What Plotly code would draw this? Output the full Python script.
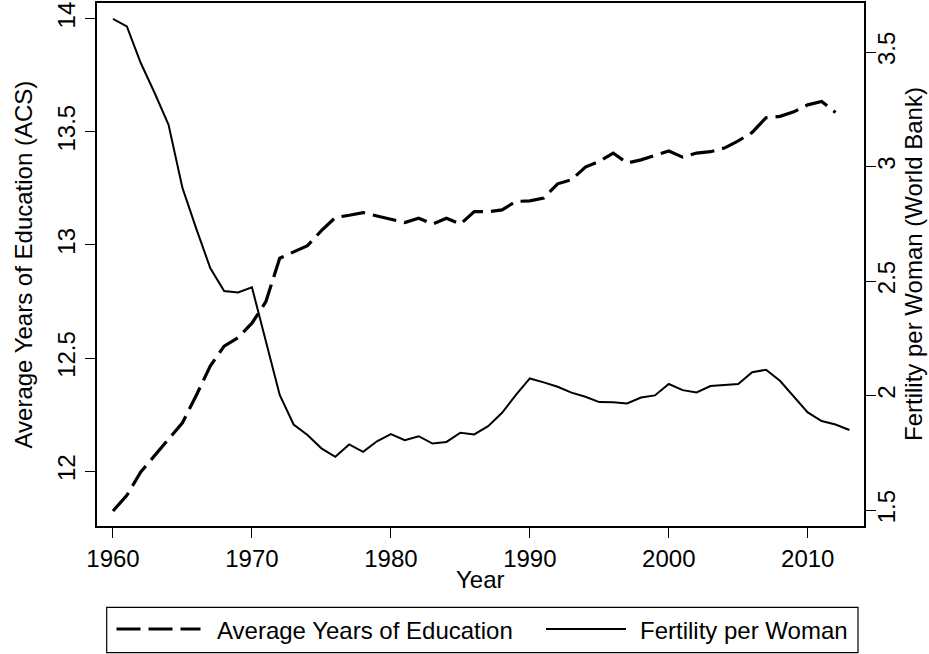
import plotly.graph_objects as go

years_edu = list(range(1960, 2013))
education = [11.824, 11.894, 11.997, 12.071, 12.145, 12.214, 12.336, 12.465, 12.553, 12.590,
             12.654, 12.749, 12.941, 12.969, 12.997, 13.063, 13.121, 13.131, 13.143, 13.128,
             13.114, 13.099, 13.118, 13.092, 13.118, 13.092, 13.147, 13.147, 13.155, 13.192,
             13.195, 13.207, 13.270, 13.288, 13.344, 13.369, 13.406, 13.362, 13.376, 13.394,
             13.415, 13.388, 13.406, 13.412, 13.428, 13.460, 13.497, 13.562, 13.568, 13.588,
             13.619, 13.634, 13.585]

years_fert = list(range(1960, 2014))
fertility = [3.645, 3.612, 3.452, 3.321, 3.182, 2.907, 2.728, 2.557, 2.457, 2.450,
             2.473, 2.243, 2.003, 1.874, 1.828, 1.770, 1.733, 1.787, 1.755, 1.801,
             1.832, 1.806, 1.823, 1.791, 1.798, 1.838, 1.831, 1.867, 1.925, 2.003,
             2.075, 2.058, 2.039, 2.013, 1.995, 1.972, 1.971, 1.966, 1.992, 2.001,
             2.051, 2.024, 2.014, 2.042, 2.046, 2.051, 2.102, 2.113, 2.065, 1.995,
             1.927, 1.889, 1.874, 1.850]

x_ticks = [1960, 1970, 1980, 1990, 2000, 2010]
edu_ticks = [12, 12.5, 13, 13.5, 14]
fert_ticks = [1.5, 2, 2.5, 3, 3.5]

series_names = ["Average Years of Education", "Fertility per Woman"]
x_title = "Year"
y_title = "Average Years of Education (ACS)"
y2_title = "Fertility per Woman (World Bank)"

FONT = "Liberation Sans, Arial, Helvetica, sans-serif"
FS = 24
W, H = 929, 654
ML, MR, MT, MB = 97, 65, 3, 128
PW, PH = W - ML - MR, H - MT - MB

DASH = "24px,8px"


def px(X):
    return (X - ML) / PW


def py(Y):
    return (H - MB - Y) / PH


fig = go.Figure()
fig.add_trace(go.Scatter(x=years_edu, y=education, mode="lines",
                         name=series_names[0],
                         line=dict(color="black", width=3.2, dash=DASH),
                         yaxis="y", showlegend=False))
fig.add_trace(go.Scatter(x=years_fert, y=fertility, mode="lines",
                         name=series_names[1],
                         line=dict(color="black", width=2),
                         yaxis="y2", showlegend=False))

axis_common = dict(showgrid=False, zeroline=False, showline=True, linecolor="black",
                   linewidth=1.6, ticks="outside", ticklen=10, tickwidth=1.3,
                   tickcolor="black", automargin=False,
                   tickfont=dict(family=FONT, size=FS, color="black"))

annotations = [
    dict(text=x_title, x=0.5, y=py(579), xref="paper", yref="paper",
         xanchor="center", yanchor="middle", showarrow=False,
         font=dict(family=FONT, size=FS, color="black")),
    dict(text=y_title, x=px(23), y=0.5, xref="paper", yref="paper",
         xanchor="center", yanchor="middle", showarrow=False, textangle=-90,
         font=dict(family=FONT, size=FS, color="black")),
    dict(text=y2_title, x=px(913.5), y=0.5, xref="paper", yref="paper",
         xanchor="center", yanchor="middle", showarrow=False, textangle=-90,
         font=dict(family=FONT, size=FS, color="black")),
    dict(text=series_names[0], x=px(215), y=py(630), xref="paper", yref="paper",
         xanchor="left", yanchor="middle", showarrow=False,
         font=dict(family=FONT, size=FS, color="black")),
    dict(text=series_names[1], x=px(638), y=py(630), xref="paper", yref="paper",
         xanchor="left", yanchor="middle", showarrow=False,
         font=dict(family=FONT, size=FS, color="black")),
]

shapes = [
    dict(type="rect", xref="paper", yref="paper", x0=px(106.7), x1=px(858),
         y0=py(652.7), y1=py(607.3), line=dict(color="black", width=1.2),
         fillcolor="rgba(0,0,0,0)"),
    dict(type="line", xref="paper", yref="paper", x0=px(116.5), x1=px(200.5),
         y0=py(629), y1=py(629), line=dict(color="black", width=3.2, dash=DASH)),
    dict(type="line", xref="paper", yref="paper", x0=px(546), x1=px(626),
         y0=py(629), y1=py(629), line=dict(color="black", width=2)),
]

fig.update_layout(
    width=W, height=H,
    margin=dict(l=ML, r=MR, t=MT, b=MB),
    paper_bgcolor="white", plot_bgcolor="white",
    font=dict(family=FONT, size=FS, color="black"),
    xaxis=dict(range=[1958.85, 2014.05], tickvals=x_ticks, mirror=True,
               **axis_common),
    yaxis=dict(range=[11.758, 14.069], tickvals=edu_ticks, tickangle=-90,
               ticklabelstandoff=1, **axis_common),
    yaxis2=dict(range=[1.431, 3.714], tickvals=fert_ticks, tickangle=-90,
                overlaying="y", side="right", ticklabelstandoff=-10,
                **axis_common),
    annotations=annotations,
    shapes=shapes,
    showlegend=False,
)

fig.write_html("out.html",
               config={"displayModeBar": False},
               post_script="document.body.style.margin='0';"
                           "document.body.style.overflow='hidden';")
